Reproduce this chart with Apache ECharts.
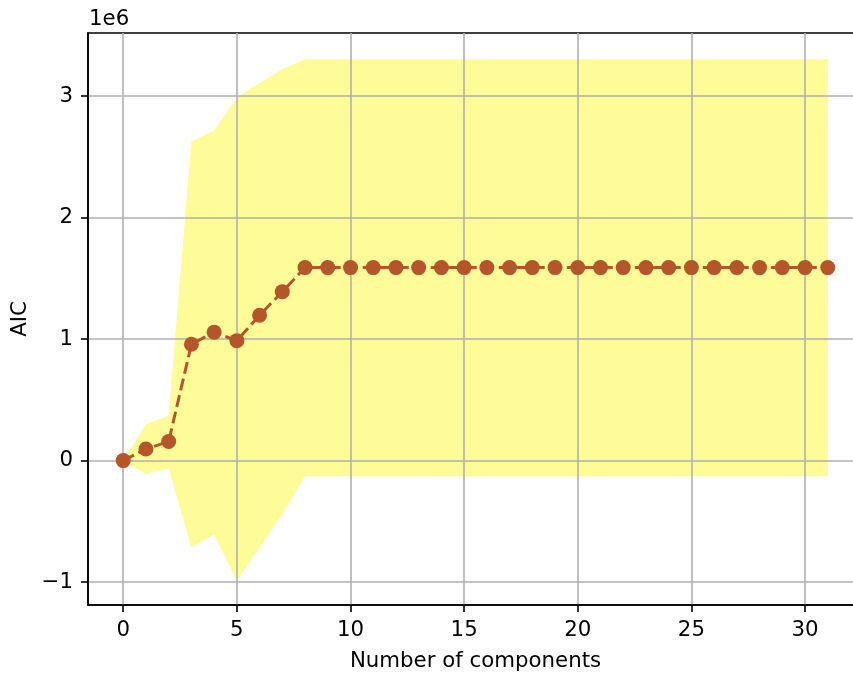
<!DOCTYPE html>
<html>
<head>
<meta charset="utf-8">
<script src="https://cdn.jsdelivr.net/npm/echarts@6/dist/echarts.min.js"></script>
<style>html,body{margin:0;padding:0;background:#fff;overflow:hidden}#c{width:883px;height:677px}</style>
</head>
<body>
<div id="c"></div>
<script>
// Data (AIC values, raw units)
var components = [0,1,2,3,4,5,6,7,8,9,10,11,12,13,14,15,16,17,18,19,20,21,22,23,24,25,26,27,28,29,30,31];
var aicMean = [0, 95000, 157000, 957000, 1057000, 987000, 1196000, 1390000,
  1588000,1588000,1588000,1588000,1588000,1588000,1588000,1588000,1588000,1588000,1588000,1588000,
  1588000,1588000,1588000,1588000,1588000,1588000,1588000,1588000,1588000,1588000,1588000,1588000];
var aicUpper = [0, 300000, 370000, 2626000, 2713000, 2985000, 3107000, 3220000,
  3302000,3302000,3302000,3302000,3302000,3302000,3302000,3302000,3302000,3302000,3302000,3302000,
  3302000,3302000,3302000,3302000,3302000,3302000,3302000,3302000,3302000,3302000,3302000,3302000];
var aicLower = [0, -109000, -63000, -713000, -607000, -985000, -716000, -440000,
  -128000,-128000,-128000,-128000,-128000,-128000,-128000,-128000,-128000,-128000,-128000,-128000,
  -128000,-128000,-128000,-128000,-128000,-128000,-128000,-128000,-128000,-128000,-128000,-128000];
var xTicks = [0,5,10,15,20,25,30];
var yTicks = [-1000000, 0, 1000000, 2000000, 3000000];
var xTitle = 'Number of components';
var yTitle = 'AIC';
var offsetText = '1e6';

var FONT = 'DejaVu Sans';
var FS = 21.3;

var chart = echarts.init(document.getElementById('c'), null, {renderer: 'canvas'});

var bandData = components.map(function (x, i) { return [x, aicLower[i], aicUpper[i]]; });
var lineData = components.map(function (x, i) { return [x, aicMean[i]]; });

var option = {
  animation: false,
  backgroundColor: '#fff',
  grid: {
    left: 88, top: 33, width: 775, height: 577,
    show: true, borderColor: '#000', borderWidth: 1.6, backgroundColor: 'transparent'
  },
  xAxis: {
    type: 'value', min: -1.55, max: 32.55,
    axisLine: {show: true, onZero: false, lineStyle: {color: '#000', width: 1.6}},
    axisTick: {show: true, length: 7, customValues: xTicks, lineStyle: {color: '#000', width: 1.6}},
    axisLabel: {customValues: xTicks, margin: 15, color: '#000', fontFamily: FONT, fontSize: FS,
      showMinLabel: true, showMaxLabel: true},
    splitLine: {show: true, lineStyle: {color: '#b0b0b0', width: 1.6}},
    name: xTitle, nameLocation: 'middle', nameGap: 46,
    nameTextStyle: {color: '#000', fontFamily: FONT, fontSize: FS}
  },
  yAxis: {
    type: 'value', min: -1188000, max: 3518000,
    axisLine: {show: true, onZero: false, lineStyle: {color: '#000', width: 1.6}},
    axisTick: {show: true, length: 7, customValues: yTicks, lineStyle: {color: '#000', width: 1.6}},
    axisLabel: {customValues: yTicks, margin: 15, color: '#000', fontFamily: FONT, fontSize: FS,
      formatter: function (v) { var n = Math.round(v / 1e6); return n < 0 ? '\u2212' + Math.abs(n) : String(n); }},
    splitLine: {show: true, lineStyle: {color: '#b0b0b0', width: 1.6}},
    name: yTitle, nameLocation: 'middle', nameGap: 55, nameRotate: 90,
    nameTextStyle: {color: '#000', fontFamily: FONT, fontSize: FS}
  },
  graphic: [{
    type: 'text', left: 89, top: 9,
    style: {text: offsetText, fill: '#000', font: FS + 'px "' + FONT + '"'}
  }],
  series: [
    {
      type: 'custom',
      z: -1,
      data: bandData,
      encode: {x: 0, y: [1, 2]},
      renderItem: function (params, api) {
        if (params.dataIndex !== 0) return null;
        var pts = [];
        for (var i = 0; i < components.length; i++) pts.push(api.coord([components[i], aicUpper[i]]));
        for (var j = components.length - 1; j >= 0; j--) pts.push(api.coord([components[j], aicLower[j]]));
        return {type: 'polygon', shape: {points: pts}, style: {fill: '#fdfc98', stroke: null}};
      },
      silent: true
    },
    {
      type: 'line',
      data: lineData,
      z: 3,
      symbol: 'circle', symbolSize: 15, showAllSymbol: true,
      itemStyle: {color: '#b5562a'},
      lineStyle: {color: '#b5562a', width: 3, type: [12, 5]}
    }
  ]
};
chart.setOption(option);
</script>
</body>
</html>
